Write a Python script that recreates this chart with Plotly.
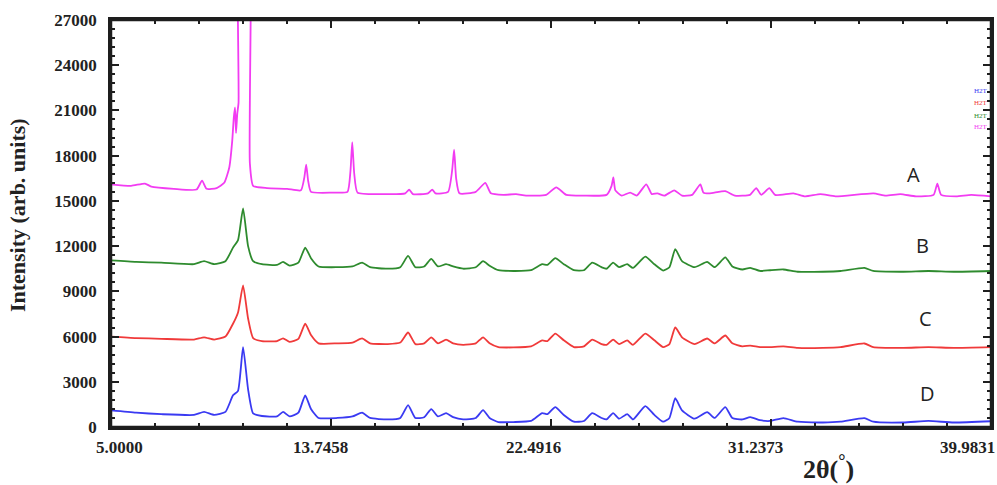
import plotly.graph_objects as go

# ---- data (2-theta in degrees, intensity in arb. units) ----
a_x = [5.00, 5.8, 6.35, 6.6, 7.5, 8.4, 8.62, 8.8, 9.2, 9.5, 9.7, 9.82, 9.88, 9.93, 9.97, 10.02, 10.07, 10.14,
       10.44, 10.52, 10.65, 11.2, 12.0, 12.55, 12.68, 12.76, 12.84, 12.95, 13.8, 14.40, 14.52, 14.59, 14.67,
       14.80, 15.8, 16.7, 16.85, 17.0, 17.6, 17.77, 17.9, 18.4, 18.56, 18.64, 18.72, 18.85, 19.5, 19.88, 20.1,
       20.6, 21.1, 21.5, 22.3, 22.70, 23.1, 23.8, 24.7, 24.90, 24.97, 25.05, 25.3, 25.64, 25.9, 26.28, 26.5,
       26.72, 27.0, 27.39, 27.7, 28.1, 28.43, 28.55, 28.8, 29.42, 29.8, 30.4, 30.65, 30.85, 31.17, 31.4, 32.13,
       32.6, 33.2, 33.8, 35.31, 35.8, 36.38, 37.0, 37.7, 37.85, 38.0, 38.6, 39.2, 39.98]
a_y = [16100, 16000, 16150, 15950, 15800, 15750, 16350, 15800, 15850, 16200, 17200, 19000, 20500, 21200, 19500, 20800, 21500, 40000,
       40000, 17500, 16000, 15850, 15800, 15700, 16500, 17400, 16300, 15600, 15550, 15600, 17000, 18900, 16800,
       15550, 15450, 15500, 15750, 15450, 15500, 15750, 15500, 15600, 17000, 18400, 16500, 15500, 15600, 16200, 15500,
       15400, 15450, 15350, 15400, 15900, 15400, 15350, 15400, 16000, 16550, 15700, 15350, 15550, 15350, 16100, 15450,
       15500, 15350, 15700, 15350, 15400, 16100, 15550, 15500, 15650, 15350, 15400, 15850, 15400, 15850, 15400, 15500,
       15300, 15450, 15300, 15500, 15350, 15450, 15300, 15400, 16150, 15400, 15300, 15400, 15300]

bcd_x = [5.0, 6.0, 7.0, 8.3, 8.70, 9.1, 9.55, 9.85, 10.05, 10.25, 10.45, 10.65, 11.0, 11.6, 11.84, 12.1, 12.45,
         12.72, 12.95, 13.25, 14.0, 14.6, 14.98, 15.3, 16.0, 16.5, 16.81, 17.1, 17.45, 17.73, 18.0, 18.32, 18.6,
         19.0, 19.5, 19.79, 20.05, 20.4, 21.0, 21.7, 22.14, 22.35, 22.66, 23.0, 23.4, 23.8, 24.13, 24.5, 24.7,
         24.96, 25.2, 25.52, 25.75, 26.24, 26.6, 26.95, 27.2, 27.43, 27.7, 28.2, 28.70, 29.0, 29.42, 29.7, 30.1,
         30.41, 30.8, 31.2, 31.73, 32.3, 33.3, 34.0, 34.95, 35.3, 36.5, 37.5, 38.5, 39.98]
b_y = [11050, 10950, 10900, 10800, 11000, 10800, 11000, 11900, 12400, 14500, 12000, 11000, 10800, 10750, 10950, 10700, 10900,
       11900, 11200, 10650, 10600, 10650, 10900, 10600, 10500, 10600, 11350, 10600, 10650, 11150, 10650, 10800, 10650,
       10500, 10600, 11000, 10700, 10400, 10350, 10400, 10800, 10750, 11200, 10800, 10400, 10400, 10900, 10600, 10500,
       10900, 10600, 10800, 10550, 11300, 10800, 10380, 10600, 11800, 11000, 10600, 10950, 10600, 11250, 10650, 10450,
       10560, 10350, 10400, 10450, 10300, 10300, 10350, 10560, 10350, 10300, 10350, 10300, 10350]
c_y = [6000, 5900, 5850, 5800, 5950, 5800, 6000, 6850, 7600, 9400, 7200, 5900, 5700, 5700, 5880, 5650, 5850,
       6850, 6100, 5550, 5550, 5600, 5880, 5550, 5500, 5600, 6270, 5500, 5550, 5950, 5550, 5800, 5550,
       5450, 5550, 5950, 5550, 5300, 5280, 5350, 5740, 5700, 6200, 5750, 5300, 5350, 5800, 5500, 5450,
       5800, 5500, 5740, 5450, 6200, 5750, 5300, 5500, 6600, 5950, 5500, 5870, 5550, 6070, 5550, 5350,
       5400, 5300, 5300, 5350, 5250, 5250, 5300, 5540, 5300, 5250, 5300, 5250, 5300]
d_y = [1100, 950, 850, 800, 1000, 800, 1000, 2100, 2400, 5300, 2500, 900, 730, 700, 1000, 700, 950,
       2100, 1200, 600, 600, 700, 950, 600, 500, 600, 1450, 600, 650, 1190, 700, 920, 650,
       500, 600, 1120, 600, 330, 330, 400, 920, 850, 1320, 800, 350, 400, 920, 600, 500,
       920, 550, 860, 500, 1390, 800, 350, 600, 1910, 1100, 550, 990, 600, 1320, 600, 500,
       660, 450, 400, 590, 350, 300, 350, 590, 350, 300, 400, 300, 380]

x_range = [5.0, 39.9831]
y_range = [0, 27000]
x_tick_vals = [5.0, 13.7458, 22.4916, 31.2373, 39.9831]
x_tick_text = ["5.0000", "13.7458", "22.4916", "31.2373", "39.9831"]
x_minor_vals = [6.74916, 8.49832, 10.24748, 11.99664, 15.49496, 17.24412, 18.99328, 20.74244,
                24.24076, 25.98992, 27.73908, 29.48824, 32.98646, 34.73562, 36.48478, 38.23394]
y_tick_vals = [0, 3000, 6000, 9000, 12000, 15000, 18000, 21000, 24000, 27000]
y_tick_text = ["0", "3000", "6000", "9000", "12000", "15000", "18000", "21000", "24000", "27000"]
y_minor_vals = [v + m for v in y_tick_vals[:-1] for m in (600, 1200, 1800, 2400)]

labels = ["A", "B", "C", "D"]
label_x = [36.9, 37.25, 37.37, 37.45]
label_y = [16770, 12010, 7190, 2240]

series = [("A", a_x, a_y, "#f23cf2"), ("B", bcd_x, b_y, "#2e8b2e"),
          ("C", bcd_x, c_y, "#f03a3a"), ("D", bcd_x, d_y, "#3a3af2")]

FRAME = "#1e1e1e"

fig = go.Figure()
for name, xs, ys, col in series:
    fig.add_trace(go.Scatter(x=xs, y=ys, mode="lines", name=name,
                             line=dict(color=col, width=1.8, shape="spline", smoothing=0.5),
                             showlegend=False, hoverinfo="skip"))

for t, lx, ly in zip(labels, label_x, label_y):
    fig.add_annotation(x=lx, y=ly, text=t, showarrow=False,
                       font=dict(family="Open Sans", size=20, color="#222222"))

# tiny clipped legend fragments at right edge
for txt, yy, col in [("H2T", 0.840, "#3a3af2"), ("H2T", 0.811, "#f03a3a"),
                     ("H2T", 0.779, "#2e8b2e"), ("H2T", 0.752, "#f23cf2")]:
    fig.add_annotation(x=0.999, y=yy, xref="paper", yref="paper", text=txt, showarrow=False,
                       xanchor="right", font=dict(family="Liberation Serif", size=7, color=col))

# x tick labels (slightly offset from their ticks, as in the original picture)
x_label_shift = [8, -11, -18, -16, -24]
for v, t, s in zip(x_tick_vals, x_tick_text, x_label_shift):
    fig.add_annotation(x=v, y=0, xref="x", yref="paper", text=t, showarrow=False,
                       xanchor="center", yanchor="middle", xshift=s, yshift=-20,
                       font=dict(family="Liberation Serif", size=17, color="#222222", weight="bold"))

y_tick_font = dict(family="Liberation Serif", size=17, color="#222222", weight="bold")
fig.update_xaxes(range=x_range, tickmode="array", tickvals=x_tick_vals,
                 showticklabels=False, showline=True, linecolor=FRAME, linewidth=2.5,
                 mirror="allticks", ticks="inside", ticklen=8, tickwidth=2, tickcolor=FRAME,
                 minor=dict(tickmode="array", tickvals=x_minor_vals, ticks="inside",
                            ticklen=4, tickwidth=1.5, tickcolor=FRAME),
                 showgrid=False, zeroline=False, automargin=False)
fig.update_yaxes(range=y_range, tickmode="array", tickvals=y_tick_vals, ticktext=y_tick_text,
                 showline=True, linecolor=FRAME, linewidth=2.5,
                 mirror="allticks", ticks="inside", ticklen=8, tickwidth=2, tickcolor=FRAME,
                 minor=dict(tickmode="array", tickvals=y_minor_vals, ticks="inside",
                            ticklen=4, tickwidth=1.5, tickcolor=FRAME),
                 showgrid=False, zeroline=False, tickfont=y_tick_font,
                 ticklabelstandoff=8, automargin=False)

fig.add_shape(type="rect", xref="paper", yref="paper", x0=0, y0=0, x1=1, y1=1,
              line=dict(color=FRAME, width=2.5), fillcolor="rgba(0,0,0,0)", layer="above")

fig.add_annotation(x=-0.106, y=0.52, xref="paper", yref="paper", text="Intensity (arb. units)",
                   textangle=-90, showarrow=False, xanchor="center", yanchor="middle",
                   font=dict(family="Liberation Serif", size=22, color="#222222", weight="bold"))
fig.add_annotation(x=0.815, y=-0.1, xref="paper", yref="paper", text="2θ(<sup>°</sup>)",
                   showarrow=False, xanchor="center", yanchor="middle",
                   font=dict(family="Liberation Serif", size=26, color="#222222", weight="bold"))

fig.update_layout(width=997, height=485, margin=dict(l=111, r=6, t=20, b=58),
                  plot_bgcolor="white", paper_bgcolor="white", hovermode=False)
fig.write_html("out.html", config={"displayModeBar": False},
               post_script="document.body.style.margin='0px';")
